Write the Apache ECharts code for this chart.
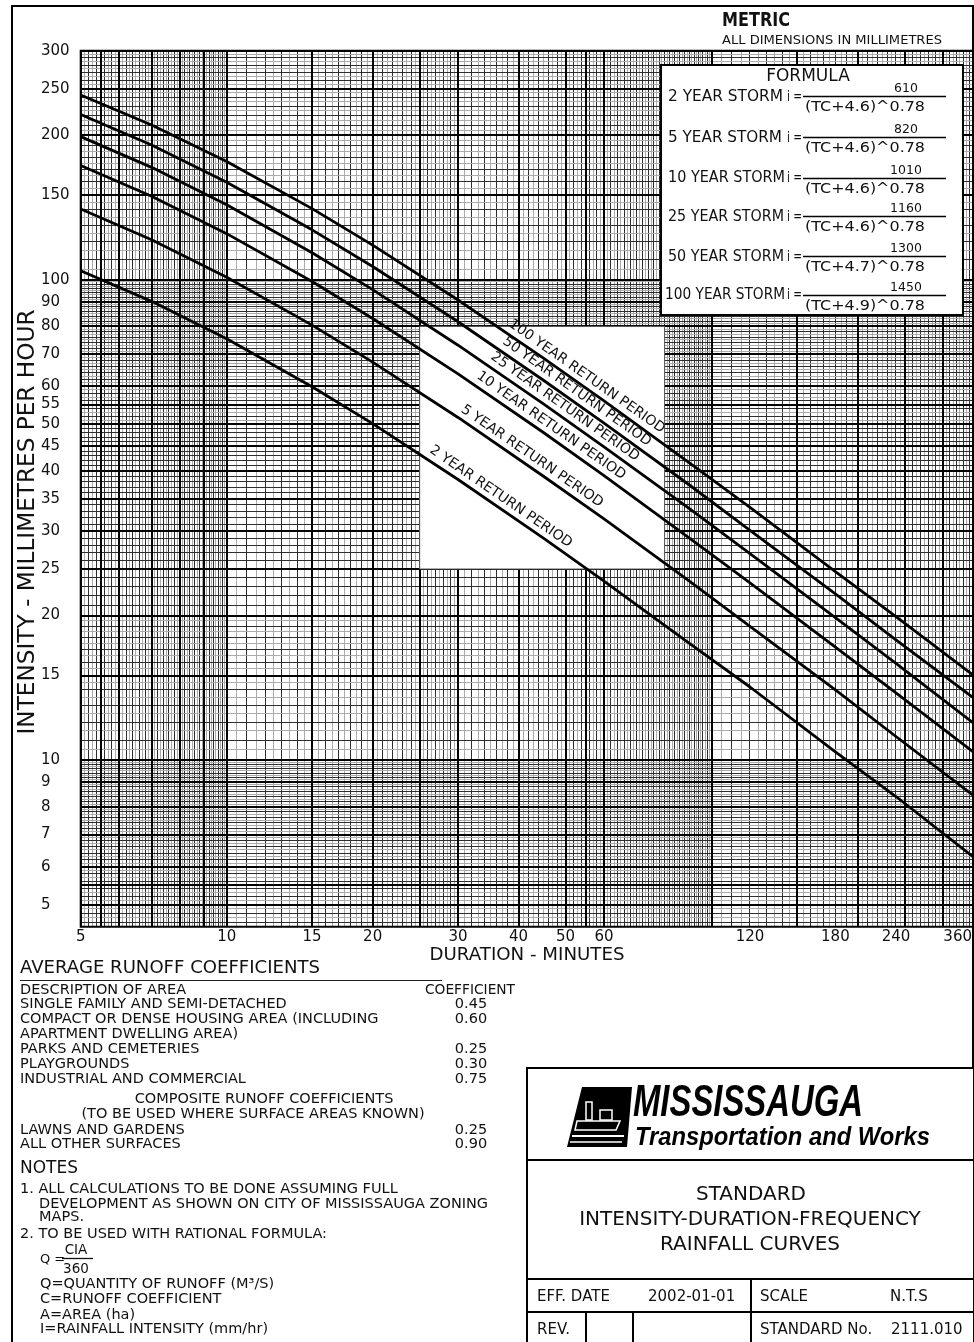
<!DOCTYPE html>
<html>
<head>
<meta charset="utf-8">
<script src="https://cdn.jsdelivr.net/npm/echarts@6/dist/echarts.min.js"></script>
<style>
  html, body { margin: 0; padding: 0; background: #fff; }
  #chart { width: 974px; height: 1342px; }
</style>
</head>
<body>
<div id="chart"></div>
<script>
// ---- IDF curve values (mm/hr) at each storm duration (minutes) ----
const durations = [5, 7, 10, 15, 20, 30, 45, 60, 90, 120, 180, 240, 360];
const storm2   = [104.5, 90.2, 75.4, 59.9, 50.2, 38.4, 29.0, 23.6, 17.5, 14.2, 10.4, 8.4, 6.1];
const storm5   = [140.5, 121.2, 101.3, 80.5, 67.4, 51.7, 39.0, 31.8, 23.6, 19.0, 14.0, 11.2, 8.2];
const storm10  = [173.0, 149.3, 124.8, 99.2, 83.1, 63.7, 48.1, 39.1, 29.0, 23.4, 17.2, 13.8, 10.1];
const storm25  = [198.7, 171.5, 143.3, 113.9, 95.4, 73.1, 55.2, 44.9, 33.4, 26.9, 19.8, 15.9, 11.6];
const storm50  = [220.9, 190.9, 159.7, 127.1, 106.6, 81.8, 61.8, 50.3, 37.4, 30.1, 22.2, 17.8, 13.1];
const storm100 = [242.5, 210.1, 176.3, 140.7, 118.1, 90.8, 68.7, 56.0, 41.6, 33.6, 24.7, 19.9, 14.6];
const curveNames = ['2 YEAR RETURN PERIOD', '5 YEAR RETURN PERIOD', '10 YEAR RETURN PERIOD',
                    '25 YEAR RETURN PERIOD', '50 YEAR RETURN PERIOD', '100 YEAR RETURN PERIOD'];

// ---- axis tick labels ----
const xTickLabels = [5, 10, 15, 20, 30, 40, 50, 60, 120, 180, 240, 360];
const yTickLabels = [300, 250, 200, 150, 100, 90, 80, 70, 60, 55, 50, 45, 40, 35, 30, 25, 20, 15, 10, 9, 8, 7, 6, 5];

// ---- formula table ----
const stormNames   = ['2 YEAR STORM', '5 YEAR STORM', '10 YEAR STORM', '25 YEAR STORM', '50 YEAR STORM', '100 YEAR STORM'];
const numerators   = ['610', '820', '1010', '1160', '1300', '1450'];
const denominators = ['(TC+4.6)^0.78', '(TC+4.6)^0.78', '(TC+4.6)^0.78', '(TC+4.6)^0.78', '(TC+4.7)^0.78', '(TC+4.9)^0.78'];

// ---- runoff coefficient table ----
const runoffRows = [
  ['SINGLE FAMILY AND SEMI-DETACHED', '0.45'],
  ['COMPACT OR DENSE HOUSING AREA (INCLUDING', '0.60'],
  ['APARTMENT DWELLING AREA)', ''],
  ['PARKS AND CEMETERIES', '0.25'],
  ['PLAYGROUNDS', '0.30'],
  ['INDUSTRIAL AND COMMERCIAL', '0.75']
];
const compositeRows = [
  ['LAWNS AND GARDENS', '0.25'],
  ['ALL OTHER SURFACES', '0.90']
];

// ---- log-paper ruling: [from, to, step, darkEvery] ----
const xRuns = [[5, 10, 0.1, 2], [10, 30, 0.5, 2], [30, 100, 1, 2], [100, 346, 5, 2]];
const yRuns = [[4.5, 10, 0.1, 2], [10, 20, 0.5, 2], [20, 50, 1, 1], [50, 100, 1, 2], [100, 300, 5, 2]];
const xHeavy = [5, 5.5, 6, 7, 8, 9, 10, 15, 20, 25, 30, 40, 50, 55, 60, 100, 150, 200, 250, 300];
const yHeavy = [5, 5.5, 6, 7, 8, 9, 10, 15, 20, 25, 30, 35, 40, 45, 50, 55, 60, 70, 80, 90, 100, 150, 200, 250, 300];

const X_MIN = 5, X_MAX = 346, Y_MIN = 4.5, Y_MAX = 300;
const CAD = '"DejaVu Sans", "Liberation Sans", sans-serif';
const series = [storm2, storm5, storm10, storm25, storm50, storm100];

const chart = echarts.init(document.getElementById('chart'), null, { renderer: 'canvas' });

const hiddenAxis = {
  axisLine: { show: false }, axisTick: { show: false },
  axisLabel: { show: false }, splitLine: { show: false }
};

chart.setOption({
  animation: false,
  backgroundColor: '#fff',
  grid: { left: 80.7, right: 1, top: 50.7, bottom: 415.3, show: false },
  xAxis: Object.assign({ type: 'log', logBase: 10, min: X_MIN, max: X_MAX }, hiddenAxis),
  yAxis: Object.assign({ type: 'log', logBase: 10, min: Y_MIN, max: Y_MAX }, hiddenAxis),
  series: series.map((vals, i) => ({
    name: curveNames[i],
    type: 'line',
    data: durations.map((d, k) => [d, vals[k]]),
    showSymbol: false,
    symbol: 'none',
    smooth: false,
    clip: true,
    silent: true,
    z: 5,
    lineStyle: { color: '#000', width: 2.8, join: 'round' }
  }))
});

const P = (x, y) => chart.convertToPixel({ gridIndex: 0 }, [x, y]);
const G = [];
const crisp = (v, w) => (w % 2 ? Math.round(v - 0.5) + 0.5 : Math.round(v));

// text measuring, used to squeeze labels into the widths of the drawing
const measureCtx = document.createElement('canvas').getContext('2d');
function fit(str, font, width) {
  measureCtx.font = font;
  return width / measureCtx.measureText(str).width;
}

function addLine(x1, y1, x2, y2, stroke, w, z) {
  G.push({ type: 'line', silent: true, z: z, shape: { x1, y1, x2, y2 }, style: { stroke, lineWidth: w } });
}
function addText(x, y, str, o) {
  o = o || {};
  const font = o.font || ('14.5px ' + CAD);
  const sx = o.width ? fit(str, font, o.width) : (o.scaleX || 1);
  G.push({
    type: 'text', silent: true, z: o.z != null ? o.z : 10, x, y,
    rotation: o.rotation || 0, scaleX: sx,
    style: {
      text: str, fill: o.fill || '#111', font: font,
      align: o.align || 'left', textAlign: o.align || 'left',
      verticalAlign: o.va || 'middle', textVerticalAlign: o.va || 'middle'
    }
  });
}
function runValues(runs) {
  const out = new Map();
  runs.forEach(([from, to, step, every]) => {
    const n = Math.round((to - from) / step);
    for (let k = 0; k <= n; k++) {
      const v = +(from + k * step).toFixed(4);
      const q = v / (every * step);
      if (!out.has(v)) out.set(v, Math.abs(q - Math.round(q)) < 1e-6);
    }
  });
  return out;
}
const isHeavy = (list, v) => list.some(h => Math.abs(h - v) < 1e-6);

// plot extent in pixels
const [pl, pt] = P(X_MIN, Y_MAX);
const [pr, pb] = P(X_MAX, Y_MIN);

const DARK = '#2e2e2e', LIGHT = '#ababab';

// ---- ruling: thin lines ----
runValues(xRuns).forEach((dark, v) => {
  if (isHeavy(xHeavy, v) || v <= X_MIN || v >= X_MAX) return;
  const x = crisp(P(v, Y_MAX)[0], 1);
  addLine(x, pt, x, pb, dark ? DARK : LIGHT, 1, 0);
});
runValues(yRuns).forEach((dark, v) => {
  if (isHeavy(yHeavy, v) || v <= Y_MIN || v >= Y_MAX) return;
  const y = crisp(P(X_MIN, v)[1], 1);
  addLine(pl, y, pr, y, dark ? DARK : LIGHT, 1, 0);
});
// ---- ruling: heavy lines ----
xHeavy.forEach(v => {
  const x = crisp(P(v, Y_MAX)[0], 2);
  addLine(x, pt, x, pb, '#000', 2, 0);
});
yHeavy.forEach(v => {
  const y = crisp(P(X_MIN, v)[1], 2);
  addLine(pl, y, pr, y, '#000', 2, 0);
});

// plot border
G.push({ type: 'rect', silent: true, z: 3, shape: { x: pl, y: pt, width: pr - pl, height: pb - pt },
         style: { fill: null, stroke: '#000', lineWidth: 2 } });

// ---- white panel holding the curve labels (25-80 min, 25-80 mm/hr) ----
const [bx1, by1] = P(25, 80);
const [bx2, by2] = P(80, 25);
G.push({ type: 'rect', silent: true, z: 1, shape: { x: bx1, y: by1, width: bx2 - bx1, height: by2 - by1 },
         style: { fill: '#fff', stroke: '#555', lineWidth: 1 } });

// ---- curve labels, set along each curve ----
function valueAt(vals, t) {
  for (let i = 0; i < durations.length - 1; i++) {
    if (t >= durations[i] && t <= durations[i + 1]) {
      const f = Math.log(t / durations[i]) / Math.log(durations[i + 1] / durations[i]);
      return Math.exp(Math.log(vals[i]) + f * Math.log(vals[i + 1] / vals[i]));
    }
  }
  return vals[vals.length - 1];
}
const labelAt = [35.8, 41.5, 45.4, 48.5, 51.3, 53.8];
const labelGap = 10;
series.forEach((vals, i) => {
  const t = labelAt[i];
  const a = P(t * 0.9, valueAt(vals, t * 0.9));
  const b = P(t * 1.1, valueAt(vals, t * 1.1));
  const c = P(t, valueAt(vals, t));
  const ang = Math.atan2(b[1] - a[1], b[0] - a[0]);
  const cx = c[0] + labelGap * Math.sin(ang);
  const cy = c[1] - labelGap * Math.cos(ang);
  addText(cx, cy, curveNames[i], { align: 'center', rotation: -ang, font: '14px ' + CAD, z: 10 });
});

// ---- tick labels ----
yTickLabels.forEach(v => {
  addText(41, P(X_MIN, v)[1], String(v), { font: '15px ' + CAD });
});
xTickLabels.forEach(v => {
  if (v <= X_MAX) addText(P(v, Y_MIN)[0], 937, String(v), { align: 'center', font: '15px ' + CAD });
  else addText(pr - 1, 937, String(v), { align: 'right', font: '15px ' + CAD });
});

// axis titles
addText(28, 522, 'INTENSITY - MILLIMETRES PER HOUR',
        { align: 'center', rotation: Math.PI / 2, font: '23px ' + CAD, width: 425 });
addText(527, 955, 'DURATION - MINUTES', { align: 'center', font: '18px ' + CAD, width: 195 });

// ---- header ----
addText(722, 21, 'METRIC', { font: 'bold 19px ' + CAD, width: 68 });
addText(722, 40.5, 'ALL DIMENSIONS IN MILLIMETRES', { font: '13px ' + CAD, width: 220 });

// ---- formula box ----
G.push({ type: 'rect', silent: true, z: 1, shape: { x: 661, y: 65, width: 302, height: 250 },
         style: { fill: '#fff', stroke: '#000', lineWidth: 2 } });
addText(808, 77, 'FORMULA', { align: 'center', font: '17px ' + CAD });
const rowY = [97, 138, 178.5, 217, 257, 295.5];
const nameWidth = [115, 114, 117, 116, 116, 120];
stormNames.forEach((name, i) => {
  const y = rowY[i];
  const ly = Math.round(y - 1) + 0.5;
  addText(name.length > 13 ? 665 : 668, y, name, { font: '15px ' + CAD, width: nameWidth[i] });
  addText(787, y, 'i =', { font: '14px ' + CAD, width: 15 });
  addLine(803, ly, 946, ly, '#000', 1.5, 2);
  addText(906, ly - 7.5, numerators[i], { align: 'center', font: '12.5px ' + CAD });
  addText(865, ly + 10.5, denominators[i], { align: 'center', font: '14px ' + CAD, width: 120 });
});

// ---- page frame ----
G.push({ type: 'rect', silent: true, z: 3, shape: { x: 12, y: 6, width: 961, height: 1350 },
         style: { fill: null, stroke: '#000', lineWidth: 2 } });

// ---- runoff coefficients ----
addText(20, 968.5, 'AVERAGE RUNOFF COEFFICIENTS', { font: '18px ' + CAD, width: 300 });
addLine(20, 980.5, 442, 980.5, '#222', 1, 2);
addText(20, 990, 'DESCRIPTION OF AREA', { font: '14.5px ' + CAD });
addText(470, 990, 'COEFFICIENT', { align: 'center', font: '14px ' + CAD, width: 90 });
runoffRows.forEach((r, i) => {
  const y = 1004.5 + i * 15;
  addText(20, y, r[0]);
  if (r[1]) addText(471, y, r[1], { align: 'center' });
});
addText(264, 1099.5, 'COMPOSITE RUNOFF COEFFICIENTS', { align: 'center' });
addText(253, 1114.5, '(TO BE USED WHERE SURFACE AREAS KNOWN)', { align: 'center' });
compositeRows.forEach((r, i) => {
  const y = 1130 + i * 14.5;
  addText(20, y, r[0]);
  addText(471, y, r[1], { align: 'center' });
});

// ---- notes ----
addText(20, 1169, 'NOTES', { font: '17px ' + CAD });
addText(20, 1189.5, '1. ALL CALCULATIONS TO BE DONE ASSUMING FULL');
addText(39, 1204, 'DEVELOPMENT AS SHOWN ON CITY OF MISSISSAUGA ZONING');
addText(39, 1217, 'MAPS.');
addText(20, 1234, '2. TO BE USED WITH RATIONAL FORMULA:');
addText(40, 1260, 'Q =', { font: '13px ' + CAD });
addText(76, 1250, 'CIA', { align: 'center', font: '13.5px ' + CAD });
addLine(62, 1258.5, 93, 1258.5, '#111', 1.3, 2);
addText(76, 1269.5, '360', { align: 'center', font: '13.5px ' + CAD });
addText(40, 1284, 'Q=QUANTITY OF RUNOFF (M³/S)');
addText(40, 1299.5, 'C=RUNOFF COEFFICIENT');
addText(40, 1315, 'A=AREA (ha)');
addText(40, 1329.5, 'I=RAINFALL INTENSITY (mm/hr)');

// ---- title block ----
const TB = { left: 527, top: 1068, right: 974, bottom: 1345 };
G.push({ type: 'rect', silent: true, z: 3, shape: { x: TB.left, y: TB.top, width: TB.right - TB.left, height: TB.bottom - TB.top },
         style: { fill: '#fff', stroke: '#000', lineWidth: 2 } });
addLine(TB.left, 1160, TB.right, 1160, '#000', 2, 4);
addLine(TB.left, 1279, TB.right, 1279, '#000', 2, 4);
addLine(TB.left, 1312, TB.right, 1312, '#000', 2, 4);
addLine(751, 1279, 751, TB.bottom, '#000', 2, 4);
addLine(586, 1312, 586, TB.bottom, '#000', 2, 4);
addLine(633, 1312, 633, TB.bottom, '#000', 2, 4);

// logo mark
G.push({ type: 'polygon', silent: true, z: 11,
  shape: { points: [[582, 1087], [632, 1087], [627, 1147], [567, 1147]] },
  style: { fill: '#000' } });
G.push({ type: 'polygon', silent: true, z: 12,
  shape: { points: [[577, 1121], [620, 1121], [616, 1130], [575, 1130]] },
  style: { fill: null, stroke: '#fff', lineWidth: 1.5 } });
G.push({ type: 'rect', silent: true, z: 12, shape: { x: 586, y: 1102, width: 6, height: 18 },
  style: { fill: null, stroke: '#fff', lineWidth: 1.5 } });
G.push({ type: 'rect', silent: true, z: 12, shape: { x: 600, y: 1110, width: 12, height: 10 },
  style: { fill: null, stroke: '#fff', lineWidth: 1.5 } });
addLine(572, 1136, 624, 1136, '#fff', 2, 12);
addLine(570, 1142, 622, 1142, '#fff', 1.5, 12);
addText(633, 1104, 'MISSISSAUGA', { font: 'italic bold 44px "Liberation Sans", sans-serif', width: 230, fill: '#000', z: 11 });
addText(635, 1138, 'Transportation and Works', { font: 'italic bold 25px "Liberation Sans", sans-serif', width: 295, fill: '#000', z: 11 });

addText(751, 1195, 'STANDARD', { align: 'center', font: '20px ' + CAD, z: 11 });
addText(750, 1219.5, 'INTENSITY-DURATION-FREQUENCY', { align: 'center', font: '20px ' + CAD, z: 11 });
addText(750, 1244.5, 'RAINFALL CURVES', { align: 'center', font: '20px ' + CAD, z: 11 });

addText(537, 1297, 'EFF. DATE', { font: '15px ' + CAD, z: 11 });
addText(648, 1297, '2002-01-01', { font: '15px ' + CAD, z: 11 });
addText(760, 1297, 'SCALE', { font: '15px ' + CAD, z: 11 });
addText(890, 1297, 'N.T.S', { font: '15px ' + CAD, z: 11 });
addText(537, 1330, 'REV.', { font: '15px ' + CAD, z: 11 });
addText(760, 1330, 'STANDARD No.', { font: '15px ' + CAD, z: 11 });
addText(891, 1330, '2111.010', { font: '15px ' + CAD, z: 11 });

chart.setOption({ graphic: { elements: G } });
</script>
</body>
</html>
